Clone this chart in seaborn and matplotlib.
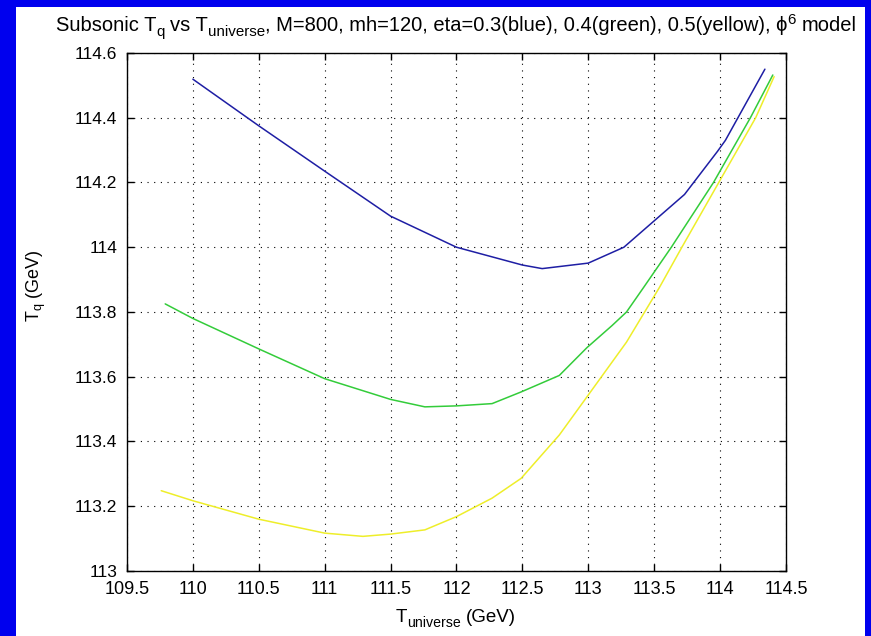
import matplotlib
matplotlib.use('Agg')
import numpy as np
import pandas as pd
import seaborn as sns
import matplotlib.pyplot as plt
from matplotlib.patches import Rectangle
from matplotlib.transforms import IdentityTransform

# values
t_blue = [110.0, 110.5, 111.0, 111.5, 112.0, 112.5, 112.65, 113.0, 113.27,
          113.49, 113.73, 113.98, 114.04, 114.19, 114.34]
tq_blue = [114.519, 114.375, 114.235, 114.096, 114.0, 113.945, 113.934, 113.951, 114.0,
           114.078, 114.163, 114.296, 114.33, 114.44, 114.55]

t_green = [109.79, 110.0, 110.5, 111.0, 111.5, 111.76, 112.0, 112.27, 112.49,
           112.78, 112.99, 113.18, 113.29, 113.42, 113.63, 113.95, 114.23, 114.40]
tq_green = [113.825, 113.78, 113.686, 113.594, 113.53, 113.507, 113.51, 113.517, 113.553,
            113.604, 113.69, 113.758, 113.80, 113.876, 114.0, 114.2, 114.4, 114.532]

t_yellow = [109.76, 110.0, 110.5, 111.0, 111.29, 111.5, 111.76, 112.0, 112.27,
            112.49, 112.78, 112.99, 113.29, 113.54, 113.71, 113.99, 114.27, 114.41]
tq_yellow = [113.248, 113.217, 113.16, 113.117, 113.107, 113.114, 113.127, 113.168, 113.225,
             113.286, 113.42, 113.538, 113.707, 113.876, 114.0, 114.2, 114.4, 114.527]

x_ticks = [109.5, 110, 110.5, 111, 111.5, 112, 112.5, 113, 113.5, 114, 114.5]
x_ticklabels = ['109.5', '110', '110.5', '111', '111.5', '112', '112.5', '113', '113.5', '114', '114.5']
y_ticks = [113, 113.2, 113.4, 113.6, 113.8, 114, 114.2, 114.4, 114.6]
y_ticklabels = ['113', '113.2', '113.4', '113.6', '113.8', '114', '114.2', '114.4', '114.6']

# text pieces: (string, size scale, baseline shift in px); a number means a gap in spaces
title_pieces = [('Subsonic T', 1, 0), ('q', 0.75, -5), 1, ('vs T', 1, 0), ('universe', 0.75, -5),
                (', M=800, mh=120, eta=0.3(blue), 0.4(green), 0.5(yellow), \u03d5', 1, 0),
                ('6', 0.75, 7), 1, ('model', 1, 0)]
xlabel_pieces = [('T', 1, 0), ('universe', 0.75, -5), 1, ('(GeV)', 1, 0)]

sns.set_theme(style='white')
plt.rcParams['font.family'] = ['Liberation Sans', 'DejaVu Sans']
plt.rcParams['mathtext.fontset'] = 'custom'
plt.rcParams['mathtext.rm'] = 'Liberation Sans'
plt.rcParams['mathtext.default'] = 'regular'


def rich_text(fig, xc, y, pieces, size):
    # lay sub/superscript pieces side by side, centred on xc (pixels)
    renderer = fig.canvas.get_renderer()
    space = 0.278 * size * fig.dpi / 72
    items = []
    for p in pieces:
        if isinstance(p, (int, float)):
            items.append((None, p * space))
            continue
        s, scale, dy = p
        t = fig.text(0, y + dy, s, fontsize=size * scale, color='black',
                     ha='left', va='baseline', transform=IdentityTransform())
        items.append((t, t.get_window_extent(renderer).width))
    x = xc - sum(w for _, w in items) / 2
    for t, w in items:
        if t is not None:
            t.set_x(x)
        x += w


fig = plt.figure(figsize=(8.71, 6.36), dpi=100)
fig.patch.set_facecolor('#0000ee')
fig.patches.append(Rectangle((0.0184, 0.0), 0.9747, 0.989, transform=fig.transFigure,
                             facecolor='white', edgecolor='none', zorder=-10))
ax = fig.add_axes([0.1458, 0.1022, 0.7566, 0.8145])
ax.set_facecolor('white')

frames = [
    pd.DataFrame({'T': t_blue, 'Tq': tq_blue, 'eta': '0.3'}),
    pd.DataFrame({'T': t_green, 'Tq': tq_green, 'eta': '0.4'}),
    pd.DataFrame({'T': t_yellow, 'Tq': tq_yellow, 'eta': '0.5'}),
]
df = pd.concat(frames, ignore_index=True)
palette = {'0.3': '#1e1ea4', '0.4': '#33cc3a', '0.5': '#eeee2a'}
sns.lineplot(data=df, x='T', y='Tq', hue='eta', palette=palette, sort=False,
             estimator=None, linewidth=1.1, legend=False, ax=ax)

ax.set_xlim(109.5, 114.5)
ax.set_ylim(113, 114.6)
ax.set_xticks(x_ticks)
ax.set_xticklabels(x_ticklabels)
ax.set_yticks(y_ticks)
ax.set_yticklabels(y_ticklabels)
ax.tick_params(direction='in', length=5, width=1, colors='black',
               top=True, right=True, bottom=True, left=True)
ax.tick_params(axis='x', labelsize=13, pad=7)
ax.tick_params(axis='y', labelsize=12.5, pad=7)
ax.grid(True, color='black', linestyle=(0, (1, 5)), linewidth=0.8)
for s in ax.spines.values():
    s.set_color('black')
    s.set_linewidth(1)

ax.set_xlabel('')
ax.set_ylabel('T$_q$ (GeV)', fontsize=13, color='black')
ax.yaxis.set_label_coords(-0.12, 0.55)

rich_text(fig, 456, 605, title_pieces, 14.5)
rich_text(fig, 456, 14, xlabel_pieces, 13.5)

fig.savefig('out.png', dpi=100, facecolor=fig.get_facecolor())
